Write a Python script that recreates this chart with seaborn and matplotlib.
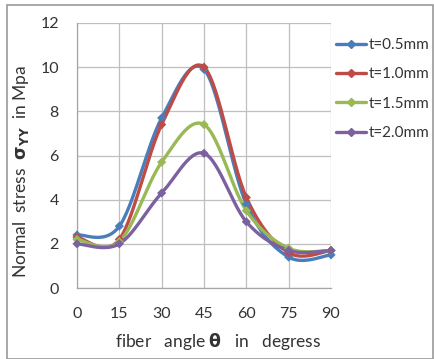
import numpy as np
import pandas as pd
import matplotlib
matplotlib.use("Agg")
import matplotlib.pyplot as plt
import seaborn as sns
from matplotlib.lines import Line2D
from matplotlib.patches import Rectangle

angles = [0, 15, 30, 45, 60, 75, 90]
t05 = [2.4, 2.8, 7.7, 9.9, 3.8, 1.4, 1.5]
t10 = [2.3, 2.2, 7.4, 10.0, 4.1, 1.6, 1.7]
t15 = [2.2, 2.1, 5.7, 7.4, 3.5, 1.8, 1.7]
t20 = [2.0, 2.0, 4.3, 6.1, 3.0, 1.7, 1.7]
labels = ["t=0.5mm", "t=1.0mm", "t=1.5mm", "t=2.0mm"]
colors = ["#4a7ebb", "#be4b48", "#98b954", "#7d60a0"]
xticks = [0, 15, 30, 45, 60, 75, 90]
yticks = [0, 2, 4, 6, 8, 10, 12]


def smooth(xs, ys, n=30):
    """Excel-like smoothed line (cubic Bezier with Catmull-Rom controls)."""
    P = np.column_stack([xs, ys]).astype(float)
    P = np.vstack([P[0], P, P[-1]])
    out = []
    t = np.linspace(0, 1, n)[:, None]
    for i in range(1, len(P) - 2):
        p0, p1, p2, p3 = P[i - 1], P[i], P[i + 1], P[i + 2]
        b1 = p1 + (p2 - p0) / 6
        b2 = p2 - (p3 - p1) / 6
        seg = ((1 - t) ** 3) * p1 + 3 * ((1 - t) ** 2) * t * b1 + 3 * (1 - t) * t ** 2 * b2 + t ** 3 * p2
        out.append(seg if i == 1 else seg[1:])
    out = np.vstack(out)
    return out[:, 0], out[:, 1]


sns.set_theme(style="white")
plt.rcParams['font.family'] = ['Lato', 'DejaVu Sans']

fig = plt.figure(figsize=(4.35, 3.59), dpi=100)
ax = fig.add_axes([77 / 435, 1 - 288 / 359, (331 - 77) / 435, (288 - 23) / 359])

series = [t05, t10, t15, t20]
rows = []
for lab, ys in zip(labels, series):
    sx, sy = smooth(angles, ys)
    for a, b in zip(sx, sy):
        rows.append({"angle": a, "stress": b, "series": lab})
df = pd.DataFrame(rows)
pts = pd.DataFrame({"angle": angles * 4,
                    "stress": sum(series, []),
                    "series": sum([[l] * len(angles) for l in labels], [])})

pal = dict(zip(labels, colors))
sns.lineplot(data=df, x="angle", y="stress", hue="series", palette=pal,
             sort=False, estimator=None, linewidth=2.4, ax=ax, legend=False)
sns.scatterplot(data=pts, x="angle", y="stress", hue="series", palette=pal,
                marker="D", s=22, linewidth=0, ax=ax, legend=False, zorder=5)
for art in ax.lines + ax.collections:
    art.set_clip_on(False)

ax.set_xlim(0, 90)
ax.set_ylim(0, 12)
ax.set_xticks(xticks)
ax.set_yticks(yticks)
ax.set_xticklabels([str(v) for v in xticks])
ax.set_yticklabels([str(v) for v in yticks])
ax.grid(True, color="#bfbfbf", linewidth=0.9)
ax.set_axisbelow(True)
for s in ["top", "right"]:
    ax.spines[s].set_visible(False)
for s in ["left", "bottom"]:
    ax.spines[s].set_color("#a6a6a6")
    ax.spines[s].set_linewidth(0.9)
ax.tick_params(axis="both", colors="#a6a6a6", length=4, width=0.9, direction="out",
               labelcolor="#333333", labelsize=11.5)
ax.tick_params(axis="y", pad=9)
ax.tick_params(axis="x", pad=10)

ax.set_xlabel(r"fiber   angle $\mathbf{\theta}$   in   degress", fontsize=12.5,
              color="#333333", labelpad=7)
ax.set_ylabel(r"Normal  stress  $\mathbf{\sigma}_{\mathbf{YY}}$  in Mpa", fontsize=12.5,
              color="#333333", labelpad=7)
ax.xaxis.label.set_x(0.555)
ax.yaxis.label.set_y(0.44)

handles = [Line2D([0], [0], color=c, lw=2.4, marker="D", markersize=4) for c in colors]
leg = fig.legend(handles, labels, loc="upper left", bbox_to_anchor=(0.772, 0.894),
                 frameon=False, fontsize=11, handlelength=2.0, handletextpad=0.15,
                 labelspacing=1.0, borderaxespad=0, borderpad=0)
for t in leg.get_texts():
    t.set_color("#333333")

fig.patches.append(Rectangle((0.016, 0.0), 0.98, 0.986, transform=fig.transFigure,
                             fill=False, edgecolor="#9a9a9a", linewidth=1.2))

fig.savefig("out.png", dpi=100)
